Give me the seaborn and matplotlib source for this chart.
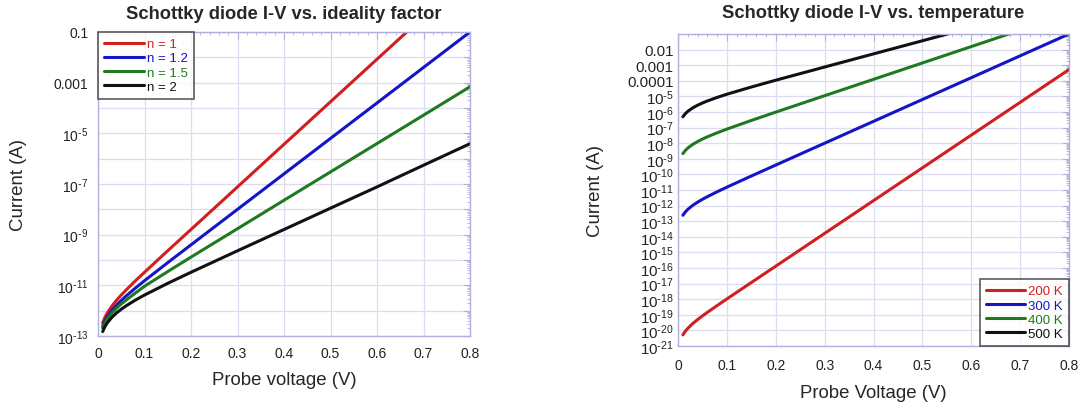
import numpy as np
import pandas as pd
import matplotlib
matplotlib.use("Agg")
import matplotlib.pyplot as plt
from matplotlib.ticker import FixedLocator, FixedFormatter, LogLocator, MultipleLocator, NullFormatter
from matplotlib.lines import Line2D
import seaborn as sns

# Probe voltage grid (V)
voltage = [0.01, 0.015, 0.02, 0.03, 0.04, 0.05, 0.06, 0.08, 0.1,
           0.15, 0.2, 0.3, 0.4, 0.5, 0.6, 0.7, 0.8]

# Current (A) for different ideality factors
ideality_labels = ["n = 1", "n = 1.2", "n = 1.5", "n = 2"]
i_n1 = [3.31e-13, 5.51e-13, 8.17e-13, 1.53e-12, 2.59e-12, 4.14e-12, 6.43e-12, 1.48e-11, 3.28e-11,
        2.32e-10, 1.60e-9, 7.68e-8, 3.68e-6, 1.76e-4, 8.42e-3, 4.03e-1, np.nan]
i_n12 = [2.40e-13, 3.92e-13, 5.70e-13, 1.03e-12, 1.66e-12, 2.53e-12, 3.73e-12, 7.67e-12, 1.52e-11,
         7.87e-11, 3.97e-10, 9.99e-9, 2.51e-7, 6.31e-6, 1.58e-4, 3.98e-3, 1.0e-1]
i_n15 = [2.06e-13, 3.31e-13, 4.73e-13, 8.17e-13, 1.26e-12, 1.84e-12, 2.59e-12, 4.90e-12, 9.2e-12,
         3.5e-11, 1.30e-10, 1.72e-9, 2.28e-8, 3.0e-7, 3.95e-6, 5.2e-5, 6.9e-4]
i_n2 = [1.49e-13, 2.36e-13, 3.31e-13, 5.51e-13, 8.17e-13, 1.14e-12, 1.53e-12, 2.59e-12, 4.14e-12,
        1.20e-11, 3.28e-11, 2.31e-10, 1.60e-9, 1.11e-8, 7.68e-8, 5.5e-7, 3.9e-6]

# Current (A) at different temperatures
temp_labels = ["200 K", "300 K", "400 K", "500 K"]
i_200 = [5.16e-21, 8.84e-21, 1.35e-20, 2.71e-20, 4.91e-20, 8.48e-20, 1.43e-19, 3.89e-19, 1.04e-18,
         1.17e-17, 1.31e-16, 1.65e-14, 2.08e-12, 2.62e-10, 3.30e-8, 4.16e-6, 5.24e-4]
i_300 = [2.40e-13, 3.92e-13, 5.70e-13, 1.03e-12, 1.66e-12, 2.53e-12, 3.73e-12, 7.67e-12, 1.52e-11,
         7.87e-11, 3.97e-10, 9.99e-9, 2.51e-7, 6.31e-6, 1.58e-4, 3.98e-3, 1.0e-1]
i_400 = [2.15e-9, 3.42e-9, 4.87e-9, 8.35e-9, 1.27e-8, 1.84e-8, 2.56e-8, 4.63e-8, 8.0e-8,
         2.87e-7, 9.8e-7, 1.11e-5, 1.24e-4, 1.39e-3, 1.56e-2, 1.75e-1, np.nan]
i_500 = [4.95e-7, 7.8e-7, 1.10e-6, 1.83e-6, 2.71e-6, 3.78e-6, 5.09e-6, 8.58e-6, 1.38e-5,
         3.99e-5, 1.09e-4, 7.64e-4, 5.31e-3, 3.68e-2, 2.55e-1, np.nan, np.nan]

line_colors = ["#d11f1f", "#1515c8", "#1f7a1f", "#111111"]


def long_table(series, labels):
    frames = []
    for lab, vals in zip(labels, series):
        frames.append(pd.DataFrame({"V": voltage, "I": vals, "curve": lab}))
    return pd.concat(frames, ignore_index=True).dropna()


df_n = long_table([i_n1, i_n12, i_n15, i_n2], ideality_labels)
df_t = long_table([i_200, i_300, i_400, i_500], temp_labels)

sns.set_theme(style="white")
plt.rcParams["font.family"] = ["Liberation Sans", "DejaVu Sans"]
plt.rcParams["mathtext.default"] = "regular"

frame_col = "#b0b0dc"
grid_col = "#dcdcf0"

fig = plt.figure(figsize=(10.89, 4.10), dpi=100)
ax1 = fig.add_axes([98 / 1089, 1 - 337 / 410, 372 / 1089, 304 / 410])
ax2 = fig.add_axes([678 / 1089, 1 - 347 / 410, 391 / 1089, 312 / 410])


def power_label(e):
    return r"$10^{\text{-}%d}$" % (-e)


def style_axes(ax):
    ax.set_yscale("log")
    ax.set_xlim(0, 0.8)
    ax.xaxis.set_minor_locator(MultipleLocator(0.02))
    ax.set_xticks(np.arange(0, 0.81, 0.1))
    ax.set_xticklabels(["0", "0.1", "0.2", "0.3", "0.4", "0.5", "0.6", "0.7", "0.8"])
    ax.yaxis.set_minor_locator(LogLocator(base=10, subs=np.arange(2, 10), numticks=100))
    ax.yaxis.set_minor_formatter(NullFormatter())
    for sp in ax.spines.values():
        sp.set_color(frame_col)
        sp.set_linewidth(1.0)
    ax.tick_params(which="both", direction="in", top=True, right=True, color=frame_col,
                   labelsize=10, labelcolor="#222222")
    ax.tick_params(which="major", length=5, width=0.8, pad=7)
    ax.tick_params(which="minor", length=2.5, width=0.6)
    ax.grid(True, which="major", color=grid_col, linewidth=0.9)
    ax.set_axisbelow(True)


def add_legend(ax, labels, loc):
    handles = [Line2D([0], [0], color=c, lw=2.2) for c in line_colors]
    leg = ax.legend(handles, labels, loc=loc, frameon=True, fancybox=False,
                    borderaxespad=0.0, handlelength=3.0, handletextpad=0.25,
                    labelspacing=0.15, borderpad=0.45, fontsize=9.5)
    leg.get_frame().set_edgecolor("#333333")
    leg.get_frame().set_linewidth(1.2)
    for txt, c in zip(leg.get_texts(), line_colors):
        txt.set_color(c)


# Left: ideality factor
style_axes(ax1)
sns.lineplot(data=df_n, x="V", y="I", hue="curve", hue_order=ideality_labels,
             palette=line_colors, linewidth=2.2, estimator=None, sort=True,
             legend=False, ax=ax1)
ax1.set_ylim(1e-13, 0.1)
exps1 = list(range(-13, 0))
ax1.yaxis.set_major_locator(FixedLocator([10.0 ** e for e in exps1]))
lab1 = []
for e in exps1:
    if e % 2 == 0:
        lab1.append("")
    elif e == -1:
        lab1.append("0.1")
    elif e == -3:
        lab1.append("0.001")
    else:
        lab1.append(power_label(e))
ax1.yaxis.set_major_formatter(FixedFormatter(lab1))
ax1.set_title("Schottky diode I-V vs. ideality factor", fontsize=13.2,
              fontweight="bold", pad=10)
ax1.set_xlabel("Probe voltage (V)", fontsize=13.4, labelpad=8)
ax1.set_ylabel("Current (A)", fontsize=13.4)
ax1.yaxis.set_label_coords(-0.19, 0.5)
add_legend(ax1, ideality_labels, "upper left")

# Right: temperature
style_axes(ax2)
sns.lineplot(data=df_t, x="V", y="I", hue="curve", hue_order=temp_labels,
             palette=line_colors, linewidth=2.2, estimator=None, sort=True,
             legend=False, ax=ax2)
ax2.set_ylim(1e-21, 0.1)
exps2 = list(range(-21, 0))
ax2.yaxis.set_major_locator(FixedLocator([10.0 ** e for e in exps2]))
lab2 = []
for e in exps2:
    if e == -1:
        lab2.append("")
    elif e == -2:
        lab2.append("0.01")
    elif e == -3:
        lab2.append("0.001")
    elif e == -4:
        lab2.append("0.0001")
    else:
        lab2.append(power_label(e))
ax2.yaxis.set_major_formatter(FixedFormatter(lab2))
ax2.tick_params(axis="y", which="major", pad=3, labelsize=10.8)
ax2.tick_params(axis="x", which="major", pad=9)
ax2.set_title("Schottky diode I-V vs. temperature", fontsize=13.2,
              fontweight="bold", pad=12)
ax2.set_xlabel("Probe Voltage (V)", fontsize=13.4, labelpad=8)
ax2.set_ylabel("Current (A)", fontsize=13.4)
ax2.yaxis.set_label_coords(-0.19, 0.5)
add_legend(ax2, temp_labels, "lower right")

fig.savefig("out.png", dpi=100, facecolor="white")
